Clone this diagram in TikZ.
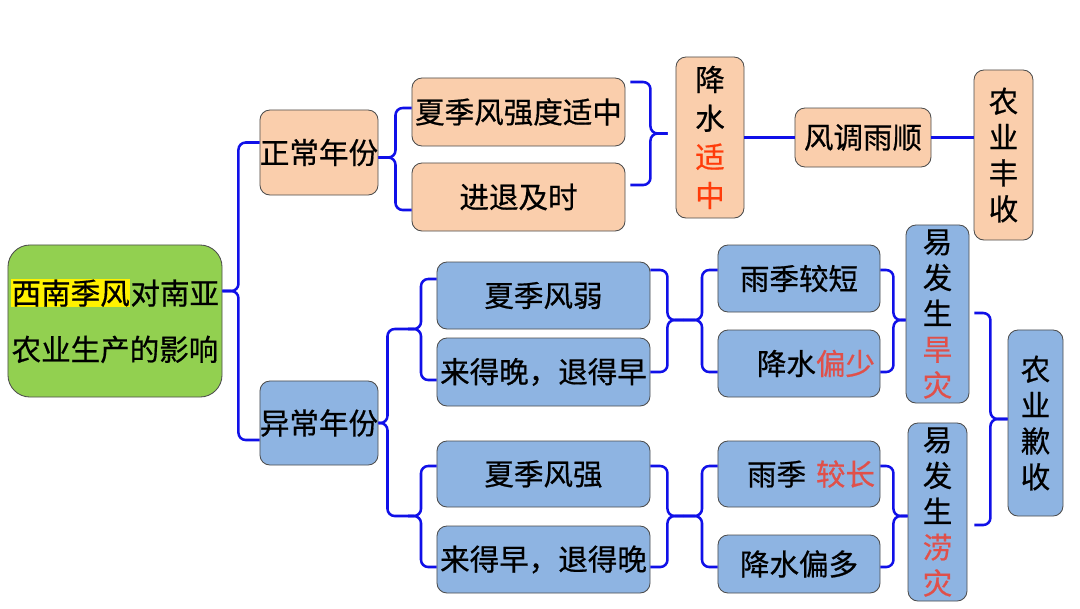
\documentclass[tikz,border=0pt]{standalone}
\usepackage{fontspec}
\usepackage{tikz}
\usetikzlibrary{calc}
\setmainfont{Noto Sans CJK SC}[FakeBold=0.6]
\setlength{\fboxsep}{0.5pt}
\definecolor{peach}{RGB}{250,206,172}
\definecolor{sky}{RGB}{142,180,226}
\definecolor{leaf}{RGB}{146,208,80}
\definecolor{linkblue}{RGB}{16,16,232}
\definecolor{hot}{RGB}{255,60,10}
\definecolor{warn}{RGB}{224,80,74}

\tikzset{
  box/.style={draw=black!70, line width=0.6pt, rounded corners=0.25cm, inner sep=0pt,
    align=center, font=\fontsize{21}{25.5}\selectfont},
  warm/.style={box, fill=peach},
  cool/.style={box, fill=sky},
  rt/.style={text width=3.8cm, align=right},
  link/.style={draw=linkblue, line width=1.8pt, rounded corners=0.18cm},
}

\begin{document}
\begin{tikzpicture}[x=0.025cm,y=-0.025cm]
    \path[fill=white] (0,0) rectangle (1080,608);
    \useasboundingbox (0,0) rectangle (1080,608);

    % Root
    \node[box, fill=leaf, rounded corners=0.55cm, minimum width=5.35cm, minimum height=3.8cm,
      font=\fontsize{21}{40}\selectfont] (root) at (115,321)
      {\colorbox{yellow}{西南季风}对南亚\\农业生产的影响};

    % Normal years
    \node[warm, minimum width=2.95cm, minimum height=2.125cm] (zc) at (319,152.5) {正常年份};
    \node[warm, minimum width=5.325cm, minimum height=1.7cm] (a1) at (518.5,112) {夏季风强度适中};
    \node[warm, minimum width=5.325cm, minimum height=1.7cm] (a2) at (518.5,197) {进退及时};
    \node[warm, minimum width=1.7cm, minimum height=4.025cm, font=\fontsize{21}{27.5}\selectfont]
      (a3) at (710,137.5) {降\\水\\{\color{hot}适}\\{\color{hot}中}};
    \node[warm, minimum width=3.4cm, minimum height=1.475cm] (a4) at (863,137.5) {风调雨顺};
    \node[warm, minimum width=1.475cm, minimum height=4.25cm] (a5) at (1003.5,155) {农\\业\\丰\\收};

    % Abnormal years
    \node[cool, minimum width=2.95cm, minimum height=2.1cm] (yc) at (319,423) {异常年份};
    \node[cool, minimum width=5.325cm, minimum height=1.675cm] (b1) at (543.5,295.5) {夏季风弱};
    \node[cool, minimum width=5.325cm, minimum height=1.7cm] (b2) at (543.5,372) {来得晚，退得早};
    \node[cool, minimum width=5.325cm, minimum height=1.65cm] (b3) at (543.5,474) {夏季风强};
    \node[cool, minimum width=5.325cm, minimum height=1.675cm] (b4) at (543.5,559.5) {来得早，退得晚};
    \node[cool, minimum width=4.05cm, minimum height=1.675cm] (c1) at (799,278.5) {雨季较短};
    \node[cool, rt, minimum width=4.05cm, minimum height=1.675cm] (c2) at (799,363.5) {降水{\color{warn}偏少}};
    \node[cool, rt, minimum width=4.05cm, minimum height=1.65cm] (c3) at (799,474) {雨季 {\color{warn}较长}};
    \node[cool, minimum width=4.05cm, minimum height=1.45cm] (c4) at (799,564) {降水偏多};
    \node[cool, minimum width=1.575cm, minimum height=4.45cm] (d1) at (937.5,314)
      {易\\发\\生\\{\color{warn}旱}\\{\color{warn}灾}};
    \node[cool, minimum width=1.475cm, minimum height=4.45cm] (d2) at (937.5,512)
      {易\\发\\生\\{\color{warn}涝}\\{\color{warn}灾}};
    \node[cool, minimum width=1.375cm, minimum height=4.65cm] (e1) at (1035.5,423) {农\\业\\歉\\收};

    % Braces, upper half
    \foreach \n/\dy in {zc/-10, yc/17}
      \draw[link] ($(root.east)+(0,-30)$) -- ++(16,0) |- ($(\n.west)+(0,\dy)$);
    \foreach \n/\dy in {a1/-4, a2/13}
      \draw[link] ($(zc.east)+(0,5)$) -- ++(17,0) |- ($(\n.west)+(0,\dy)$);
    \coordinate (ta) at ($(a3.west)+(-8,-4)$);
    \foreach \n/\dy in {a1/-30, a2/-12}
      \draw[link] ($(\n.east)+(5,\dy)$) -- ++(20,0) |- (ta);
    \draw[link] (a3.east) -- (a4.west);
    \draw[link] (a4.east) -- (a4.east -| a5.west);

    % Braces, lower half
    \coordinate (p1) at (408,329);
    \coordinate (p2) at (408,516);
    \coordinate (q1) at (683,320);
    \coordinate (q2) at (683,516);
    \foreach \p in {p1,p2}
      \draw[link] (yc.east) -- ++(9,0) |- (\p);
    \foreach \p/\n/\dy in {p1/b1/-16.5, p1/b2/8, p2/b3/-8, p2/b4/7.5}
      \draw[link] (\p) -- ++(13,0) |- ($(\n.west)+(0,\dy)$);
    \foreach \n/\dy/\q in {b1/-25.5/q1, b2/0/q1, b3/-8/q2, b4/7.5/q2}
      \draw[link] ($(\n.east)+(0,\dy)$) -- ++(17,0) |- (\q);
    \foreach \q/\n/\dy in {q1/c1/-8.5, q1/c2/8.5, q2/c3/-8, q2/c4/3}
      \draw[link] (\q) -- ++(19,0) |- ($(\n.west)+(0,\dy)$);
    \foreach \n/\dy/\d/\e in {c1/-8.5/d1/6, c2/8.5/d1/6, c3/-8/d2/4, c4/3/d2/4}
      \draw[link] ($(\n.east)+(0,\dy)$) -- ++(13,0) |- ($(\d.west)+(0,\e)$);
    \draw[link] ($(d1.east)+(5,-1)$) -- ++(16,0) |- ($(e1.west)+(0,-4)$);
    \draw[link] ($(d2.east)+(7,13)$) -- ++(16,0) |- ($(e1.west)+(0,-4)$);
\end{tikzpicture}
\end{document}
